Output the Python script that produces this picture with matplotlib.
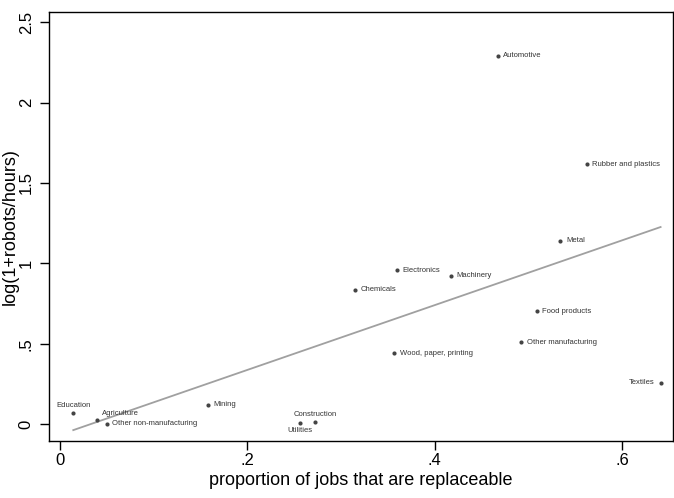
import matplotlib
matplotlib.use("Agg")
import matplotlib.pyplot as plt
import numpy as np

plt.rcParams['font.family'] = ['Liberation Sans', 'DejaVu Sans']

# industries, share of replaceable jobs, log(1+robots/hours)
industries = ["Automotive", "Rubber and plastics", "Metal", "Electronics", "Machinery",
              "Chemicals", "Food products", "Other manufacturing", "Wood, paper, printing",
              "Textiles", "Mining", "Education", "Agriculture", "Other non-manufacturing",
              "Utilities", "Construction"]
replaceable = [0.467, 0.562, 0.534, 0.360, 0.417, 0.315, 0.509, 0.492, 0.357,
               0.641, 0.158, 0.0142, 0.040, 0.0498, 0.256, 0.272]
robots = [2.29, 1.618, 1.142, 0.959, 0.922, 0.835, 0.704, 0.511, 0.443,
          0.257, 0.12, 0.072, 0.027, 0.004, 0.008, 0.016]
# label placement (clock position, Stata style)
label_pos = {"Textiles": 9, "Education": 12, "Agriculture": 2, "Utilities": 6, "Construction": 12}

x = np.array(replaceable)
y = np.array(robots)

fig = plt.figure(figsize=(6.74, 4.98), dpi=100)
ax = fig.add_axes([49/674, 57.3/498, 623.5/674, 429.2/498])

ax.scatter(x, y, s=9, color="#444444", zorder=3, linewidths=0)

# linear fit across the observed range
b, a = np.polyfit(x, y, 1)
xs = np.array([x.min(), x.max()])
ax.plot(xs, a + b * xs, color="#a0a0a0", lw=1.3, zorder=2)

fs = 5.5
tc = "#333333"
for name, xi, yi in zip(industries, x, y):
    pos = label_pos.get(name, 3)
    if pos == 3:
        ax.annotate(name, (xi, yi), xytext=(4, 0), textcoords="offset points",
                    ha="left", va="center", fontsize=fs, color=tc)
    elif pos == 9:
        ax.annotate(name, (xi, yi), xytext=(-4, 0), textcoords="offset points",
                    ha="right", va="center", fontsize=fs, color=tc)
    elif pos == 12:
        ax.annotate(name, (xi, yi), xytext=(0, 3), textcoords="offset points",
                    ha="center", va="bottom", fontsize=fs, color=tc)
    elif pos == 6:
        ax.annotate(name, (xi, yi), xytext=(0, -3), textcoords="offset points",
                    ha="center", va="top", fontsize=fs, color=tc)
    elif pos == 2:
        ax.annotate(name, (xi, yi), xytext=(3, 2), textcoords="offset points",
                    ha="left", va="bottom", fontsize=fs, color=tc)

ax.set_xlim(-0.0117, 0.6537)
ax.set_ylim(-0.102, 2.566)
ax.set_xticks([0, 0.2, 0.4, 0.6])
ax.set_xticklabels(["0", ".2", ".4", ".6"])
ax.set_yticks([0, 0.5, 1, 1.5, 2, 2.5])
ax.set_yticklabels(["0", ".5", "1", "1.5", "2", "2.5"], rotation=90, va="center")
ax.tick_params(labelsize=12, length=6.5, width=1, direction="out", colors="black")
ax.tick_params(axis="x", pad=2)
ax.tick_params(axis="y", pad=4.5)
for s in ax.spines.values():
    s.set_linewidth(1)
ax.set_xlabel("proportion of jobs that are replaceable", fontsize=13, labelpad=3)
ax.set_ylabel("log(1+robots/hours)", fontsize=13)
ax.yaxis.set_label_coords(-30/623.5, 0.5)

fig.savefig("out.png", dpi=100)
